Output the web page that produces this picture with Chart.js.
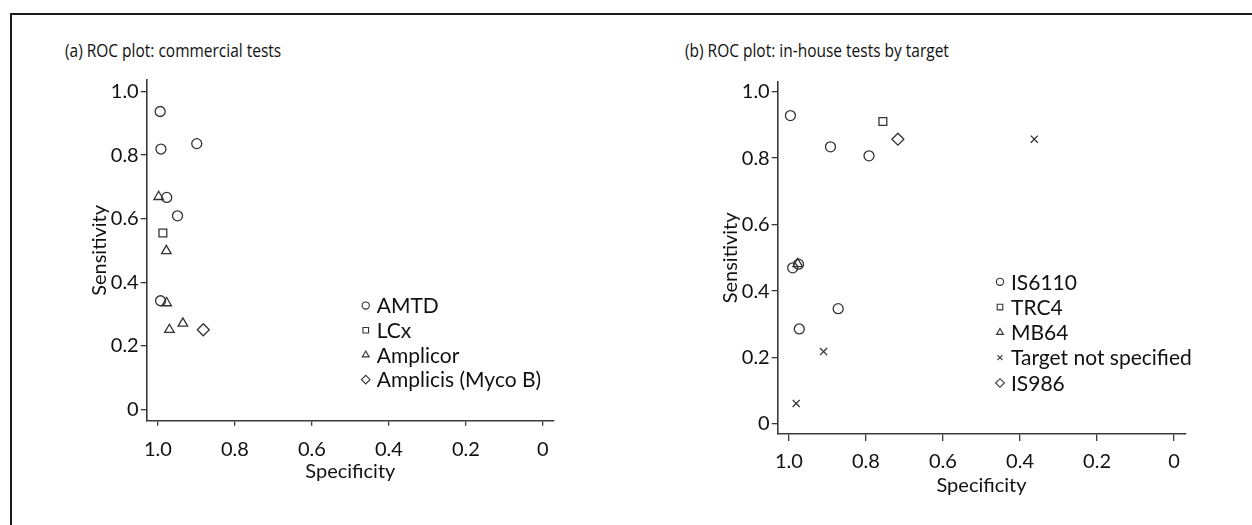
<!DOCTYPE html>
<html>
<head>
<meta charset="utf-8">
<title>ROC plots</title>
<script src="https://cdn.jsdelivr.net/npm/chart.js@4.4.1/dist/chart.umd.min.js"></script>
<style>
  html, body { margin: 0; padding: 0; background: #fff; }
  body { width: 1252px; height: 525px; position: relative; overflow: hidden; }
  .frame { position: absolute; left: 10px; top: 13px; right: -4px; bottom: -4px;
           border-top: 2px solid #1a1a1a; border-left: 2px solid #1a1a1a; }
  .panel-title { position: absolute; top: 40px; font: 18px/20px "Open Sans", sans-serif; color: #111;
                 white-space: nowrap; transform: scaleX(0.86); transform-origin: 0 50%; }
  #titleA { left: 65px; }
  #titleB { left: 685px; }
  canvas { position: absolute; top: 20px; }
  #rocA { left: 20px; }
  #rocB { left: 640px; }
</style>
</head>
<body>
<div class="frame"></div>
<div class="panel-title" id="titleA">(a) ROC plot: commercial tests</div>
<div class="panel-title" id="titleB">(b) ROC plot: in-house tests by target</div>
<canvas id="rocA" width="600" height="505"></canvas>
<canvas id="rocB" width="600" height="505"></canvas>
<script>
// axis ticks
const specTicks = [1.0, 0.8, 0.6, 0.4, 0.2, 0];
const specTickLabels = ["1.0", "0.8", "0.6", "0.4", "0.2", "0"];
const sensTicks = [0, 0.2, 0.4, 0.6, 0.8, 1.0];
const sensTickLabels = ["0", "0.2", "0.4", "0.6", "0.8", "1.0"];

// (a) commercial tests: specificity / sensitivity
const amtdSpec = [0.994, 0.992, 0.899, 0.977, 0.949, 0.993];
const amtdSens = [0.937, 0.819, 0.836, 0.667, 0.609, 0.342];
const lcxSpec = [0.987];
const lcxSens = [0.555];
const amplicorSpec = [0.998, 0.978, 0.977, 0.970, 0.935];
const amplicorSens = [0.669, 0.499, 0.335, 0.251, 0.271];
const amplicisSpec = [0.882];
const amplicisSens = [0.251];

// (b) in-house tests by target
const is6110Spec = [0.996, 0.892, 0.792, 0.990, 0.975, 0.973, 0.872];
const is6110Sens = [0.928, 0.834, 0.807, 0.470, 0.481, 0.286, 0.347];
const trc4Spec = [0.756];
const trc4Sens = [0.910];
const mb64Spec = [0.977];
const mb64Sens = [0.482];
const unspecSpec = [0.363, 0.910, 0.981];
const unspecSens = [0.857, 0.218, 0.062];
const is986Spec = [0.717];
const is986Sens = [0.857];

const ink = "#111";
const axisColor = "#3a3a3a";
const markColor = "#333";
const bodyFont = "Lato";

function pairs(xs, ys) {
    return xs.map((x, i) => ({ x: x, y: ys[i] }));
}

function series(label, xs, ys, style, radius) {
    return {
        label: label,
        data: pairs(xs, ys),
        pointStyle: style,
        pointRadius: radius,
        pointHoverRadius: radius,
        pointBorderWidth: 1.3,
        pointBorderColor: markColor,
        pointBackgroundColor: "rgba(0,0,0,0)"
    };
}

// little key drawn inside the plot area, one row per dataset
const markerKey = {
    id: "markerKey",
    afterDatasetsDraw(chart, args, opts) {
        const ctx = chart.ctx;
        const x0 = chart.scales.x.getPixelForValue(opts.spec);
        let y0 = chart.scales.y.getPixelForValue(opts.sens);
        ctx.save();
        ctx.font = opts.size + "px " + bodyFont;
        ctx.textBaseline = "middle";
        ctx.strokeStyle = markColor;
        ctx.lineWidth = 1.1;
        chart.data.datasets.forEach(ds => {
            ctx.fillStyle = "rgba(0,0,0,0)";
            Chart.helpers.drawPoint(ctx, {
                pointStyle: ds.pointStyle,
                radius: ds.pointRadius * 0.72,
                borderWidth: 1.1,
                rotation: 0
            }, x0, y0);
            ctx.fillStyle = ink;
            ctx.fillText(ds.label, x0 + opts.gap, y0 + 1);
            y0 += opts.rowGap;
        });
        ctx.restore();
    }
};

function makeRoc(id, p) {
    const tickFont = { family: bodyFont, size: 20 };
    return new Chart(document.getElementById(id), {
        type: "scatter",
        data: { datasets: p.datasets },
        options: {
            responsive: false,
            animation: false,
            events: [],
            layout: { padding: { left: p.padLeft, right: p.padRight, top: p.padTop, bottom: 0 } },
            scales: {
                x: {
                    type: "linear",
                    reverse: true,
                    min: -0.029,
                    max: 1.029,
                    afterBuildTicks: s => { s.ticks = specTicks.map(v => ({ value: v })); },
                    afterFit: s => { s.height = p.xHeight; },
                    ticks: {
                        callback: (v, i) => specTickLabels[i],
                        padding: p.xTickPad,
                        color: ink,
                        font: tickFont,
                        maxRotation: 0,
                        autoSkip: false
                    },
                    grid: { drawOnChartArea: false, drawTicks: true, tickLength: p.tickLen, color: axisColor, lineWidth: 1.3 },
                    border: { display: true, color: axisColor, width: 1.6 },
                    title: { display: true, text: "Specificity", color: ink, font: tickFont, padding: { top: 0, bottom: p.xTitlePad } }
                },
                y: {
                    type: "linear",
                    min: p.yMin,
                    max: p.yMax,
                    afterBuildTicks: s => { s.ticks = sensTicks.map(v => ({ value: v })); },
                    afterFit: s => { s.width = p.yWidth; },
                    ticks: {
                        callback: (v, i) => sensTickLabels[i],
                        padding: 2,
                        color: ink,
                        font: tickFont,
                        autoSkip: false
                    },
                    grid: { drawOnChartArea: false, drawTicks: true, tickLength: 6, color: axisColor, lineWidth: 1.3 },
                    border: { display: true, color: axisColor, width: 1.6 },
                    title: { display: true, text: "Sensitivity", color: ink, font: tickFont, padding: { top: p.yTitlePad, bottom: 0 } }
                }
            },
            plugins: {
                legend: { display: false },
                tooltip: { enabled: false },
                title: { display: false },
                markerKey: p.key
            }
        },
        plugins: [markerKey]
    });
}

makeRoc("rocA", {
    datasets: [
        series("AMTD", amtdSpec, amtdSens, "circle", 5),
        series("LCx", lcxSpec, lcxSens, "rect", 5.5),
        series("Amplicor", amplicorSpec, amplicorSens, "triangle", 5.5),
        series("Amplicis (Myco B)", amplicisSpec, amplicisSens, "rectRot", 6)
    ],
    padLeft: 45, padRight: 66, padTop: 60,
    yWidth: 81.7, yTitlePad: 23,
    xHeight: 104.3, xTickPad: 11.4, xTitlePad: 41.4, tickLen: 5,
    yMin: -0.035, yMax: 1.036,
    key: { spec: 0.46, sens: 0.327, rowGap: 24.7, gap: 11, size: 21 }
});

makeRoc("rocB", {
    datasets: [
        series("IS6110", is6110Spec, is6110Sens, "circle", 5),
        series("TRC4", trc4Spec, trc4Sens, "rect", 5.5),
        series("MB64", mb64Spec, mb64Sens, "triangle", 5.5),
        series("Target not specified", unspecSpec, unspecSens, "crossRot", 5),
        series("IS986", is986Spec, is986Sens, "rectRot", 6)
    ],
    padLeft: 45, padRight: 54.7, padTop: 61.7,
    yWidth: 92.7, yTitlePad: 34,
    xHeight: 91, xTickPad: 8.4, xTitlePad: 27, tickLen: 7,
    yMin: -0.030, yMax: 1.030,
    key: { spec: 0.452, sens: 0.428, rowGap: 25.3, gap: 11, size: 21 }
});
</script>
</body>
</html>
